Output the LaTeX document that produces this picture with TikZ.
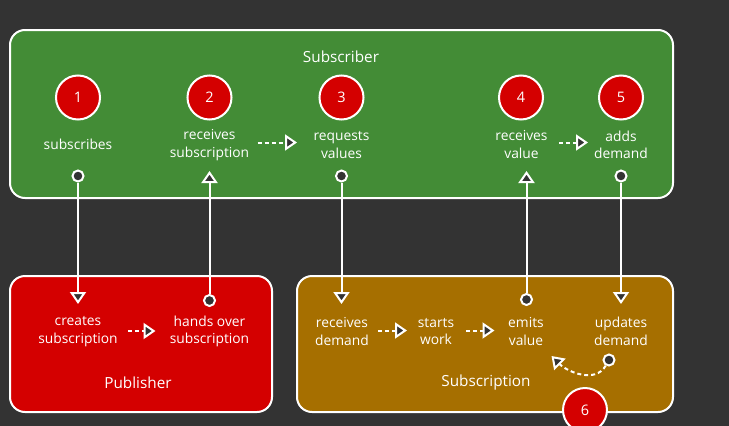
\documentclass[tikz,border=0pt]{standalone}
\usepackage{fontspec}
\setmainfont{Open Sans}
\usetikzlibrary{arrows.meta}
\definecolor{bg}{HTML}{333333}
\definecolor{subgreen}{HTML}{438C36}
\definecolor{pubred}{HTML}{D40000}
\definecolor{subbrown}{HTML}{A66F00}
\begin{document}
\begin{tikzpicture}[x=1pt,y=-1pt,
  box/.style={draw=white, line width=2pt, rounded corners=15pt},
  numcirc/.style={circle, draw=white, line width=2pt, fill=pubred, minimum size=44pt, inner sep=0pt, text=white, font=\fontsize{14.5}{16}\selectfont},
  lbl/.style={text=white, align=center, font=\fontsize{13.8}{17.8}\selectfont, inner sep=0pt},
  ttl/.style={text=white, font=\fontsize{15.3}{18}\selectfont, inner sep=0pt},
  dot/.style={circle, draw=white, fill=bg, line width=2pt, minimum size=11pt, inner sep=0pt},
  conn/.style={draw=white, line width=2pt, -{Triangle[length=12pt, width=16pt, fill=bg]}},
  dashconn/.style={draw=white, line width=2pt, dash pattern=on 4pt off 3pt, -{Triangle[length=12pt, width=16pt, fill=bg]}},
]
\path[fill=bg, use as bounding box] (0,0) rectangle (729,426);

% boxes
\path[box, fill=subgreen] (10,30) rectangle (673,198);
\path[box, fill=pubred] (10,276) rectangle (272,412);
\path[box, fill=subbrown] (297,276) rectangle (673,412);

% titles
\node[ttl] (tsub) at (341,57) {Subscriber};
\node[ttl] (tpub) at (138,382.5) {Publisher};
\node[ttl] (tsn) at (486,382.5) {Subscription};

% subscriber
\node[numcirc] (c1) at (78,97.5) {1};
\node[numcirc] (c2) at (209.5,97.5) {2};
\node[numcirc] (c3) at (341.5,97.5) {3};
\node[numcirc] (c4) at (521,97.5) {4};
\node[numcirc] (c5) at (621,97.5) {5};
\node[lbl] (l1) at (78,144) {subscribes};
\node[lbl] (l2) at (209.5,144.8) {receives\\subscription};
\node[lbl] (l3) at (341.5,144.8) {requests\\values};
\node[lbl] (l4) at (521.5,144.8) {receives\\value};
\node[lbl] (l5) at (621,144.8) {adds\\demand};
\coordinate (t2) at (209.5,171);
\coordinate (t4) at (526.5,171);
\coordinate (a23s) at (257.5,142.5);
\coordinate (a23e) at (297,142.5);
\coordinate (a45s) at (559,142.5);
\coordinate (a45e) at (588,142.5);

% publisher
\node[lbl] (p1) at (78,331.5) {creates\\subscription};
\node[lbl] (p2) at (209.5,331.5) {hands over\\subscription};
\coordinate (tp1) at (78,304);
\coordinate (ap12s) at (128,331);
\coordinate (ap12e) at (155.5,331);

% subscription
\node[lbl] (q1) at (342,331.5) {receives\\demand};
\node[lbl] (q2) at (436,331.5) {starts\\work};
\node[lbl] (q3) at (526,331.5) {emits\\value};
\node[lbl] (q4) at (621,331.5) {updates\\demand};
\coordinate (tq1) at (341.5,304);
\coordinate (tq4) at (621,304);
\coordinate (tq6) at (551.5,356);
\coordinate (aq12s) at (378,330.5);
\coordinate (aq12e) at (407,330.5);
\coordinate (aq23s) at (466,330.5);
\coordinate (aq23e) at (494.5,330.5);

% dots
\node[dot] (d1) at (78,176) {};
\node[dot] (d3) at (341.5,176) {};
\node[dot] (d5) at (621,176) {};
\node[dot] (dp2) at (209.5,300.5) {};
\node[dot] (dq3) at (526.5,299.5) {};
\node[dot] (dq6) at (609,360) {};

% connectors
\draw[conn] (d1) -- (tp1);
\draw[conn] (dp2) -- (t2);
\draw[conn] (d3) -- (tq1);
\draw[conn] (dq3) -- (t4);
\draw[conn] (d5) -- (tq4);
\draw[dashconn] (a23s) -- (a23e);
\draw[dashconn] (a45s) -- (a45e);
\draw[dashconn] (ap12s) -- (ap12e);
\draw[dashconn] (aq12s) -- (aq12e);
\draw[dashconn] (aq23s) -- (aq23e);
\draw[dashconn] (dq6) to[out=-120, in=-45] (tq6);

\node[numcirc] (c6) at (585,410) {6};
\end{tikzpicture}
\end{document}
